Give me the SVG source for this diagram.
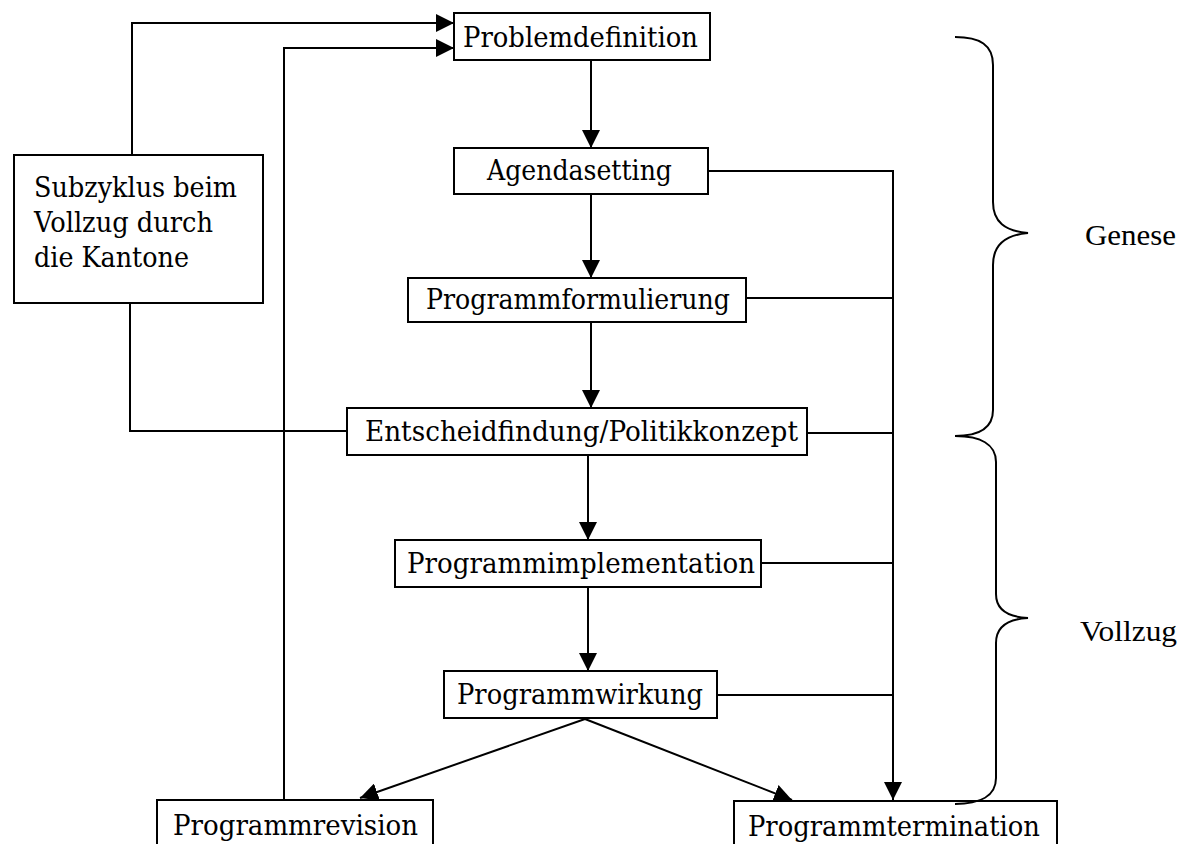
<svg xmlns="http://www.w3.org/2000/svg" width="1183" height="844" viewBox="0 0 1183 844">
<style>
.box{fill:#fff;stroke:#000;stroke-width:2}
.t{font-family:"DejaVu Serif","Liberation Serif",serif;font-size:28px;fill:#000}
.lbl{font-family:"Liberation Serif",serif;font-size:29px;fill:#000}
.ln{fill:none;stroke:#000;stroke-width:2}
.br{fill:none;stroke:#000;stroke-width:2}
</style>
<defs>
<marker id="a" viewBox="0 0 18 18" refX="18" refY="9" markerWidth="18" markerHeight="18" markerUnits="userSpaceOnUse" orient="auto">
<path d="M0,0 L18,9 L0,18 z" fill="#000"/>
</marker>
</defs>
<rect width="1183" height="844" fill="#fff"/>
<g id="connectors">
<polyline class="ln" points="132,155 132,23 454,23" marker-end="url(#a)"/>
<polyline class="ln" points="284,800 284,48 454,48" marker-end="url(#a)"/>
<polyline class="ln" points="130,303 130,431 347,431"/>
<line class="ln" x1="591" y1="60" x2="591" y2="148" marker-end="url(#a)"/>
<line class="ln" x1="591" y1="194" x2="591" y2="278" marker-end="url(#a)"/>
<line class="ln" x1="591" y1="322" x2="591" y2="408" marker-end="url(#a)"/>
<line class="ln" x1="588" y1="455" x2="588" y2="540" marker-end="url(#a)"/>
<line class="ln" x1="588" y1="587" x2="588" y2="671" marker-end="url(#a)"/>
<polyline class="ln" points="708,171 893,171 893,800" marker-end="url(#a)"/>
<line class="ln" x1="746" y1="298" x2="893" y2="298"/>
<line class="ln" x1="807" y1="433" x2="893" y2="433"/>
<line class="ln" x1="761" y1="563" x2="893" y2="563"/>
<line class="ln" x1="717" y1="695" x2="893" y2="695"/>
<line class="ln" x1="585" y1="719" x2="360" y2="798" marker-end="url(#a)"/>
<line class="ln" x1="585" y1="719" x2="792" y2="800" marker-end="url(#a)"/>
</g>
<g id="n-problemdefinition"><rect class="box" x="454" y="13" width="256" height="47"/><text class="t" x="463" y="47" textLength="235" lengthAdjust="spacingAndGlyphs">Problemdefinition</text></g>
<g id="n-agendasetting"><rect class="box" x="454" y="148" width="254" height="46"/><text class="t" x="487" y="180" textLength="185" lengthAdjust="spacingAndGlyphs">Agendasetting</text></g>
<g id="n-programmformulierung"><rect class="box" x="408" y="278" width="338" height="44"/><text class="t" x="426" y="309" textLength="304" lengthAdjust="spacingAndGlyphs">Programmformulierung</text></g>
<g id="n-entscheidfindung"><rect class="box" x="347" y="408" width="460" height="47"/><text class="t" x="365" y="441" textLength="433" lengthAdjust="spacingAndGlyphs">Entscheidfindung/Politikkonzept</text></g>
<g id="n-programmimplementation"><rect class="box" x="395" y="540" width="366" height="47"/><text class="t" x="407" y="573" textLength="348" lengthAdjust="spacingAndGlyphs">Programmimplementation</text></g>
<g id="n-programmwirkung"><rect class="box" x="444" y="671" width="273" height="47"/><text class="t" x="457" y="704" textLength="246" lengthAdjust="spacingAndGlyphs">Programmwirkung</text></g>
<g id="n-programmrevision"><rect class="box" x="157" y="800" width="276" height="60"/><text class="t" x="173" y="835" textLength="245" lengthAdjust="spacingAndGlyphs">Programmrevision</text></g>
<g id="n-programmtermination"><rect class="box" x="734" y="801" width="323" height="60"/><text class="t" x="748" y="836" textLength="292" lengthAdjust="spacingAndGlyphs">Programmtermination</text></g>
<g id="n-subzyklus"><rect class="box" x="14" y="155" width="249" height="148"/>
<text class="t" x="34" y="197" textLength="203" lengthAdjust="spacingAndGlyphs">Subzyklus beim</text>
<text class="t" x="34" y="232" textLength="179" lengthAdjust="spacingAndGlyphs">Vollzug durch</text>
<text class="t" x="34" y="267" textLength="155" lengthAdjust="spacingAndGlyphs">die Kantone</text></g>
<g id="braces">
<path class="br" d="M955,37 C980,37 993,45 993,65 L993,202 C993,222 1005,231 1028,233 C1005,235 993,245 993,265 L993,410 C993,428 980,436 955,436"/>
<path class="br" d="M955,436 C980,436 996,444 996,462 L996,594 C996,610 1008,617 1028,618 C1008,619 996,627 996,643 L996,778 C996,796 980,804 955,804"/>
</g>
<text class="lbl" x="1085" y="245" textLength="91" lengthAdjust="spacingAndGlyphs">Genese</text>
<text class="lbl" x="1080" y="641" textLength="97" lengthAdjust="spacingAndGlyphs">Vollzug</text>
</svg>
